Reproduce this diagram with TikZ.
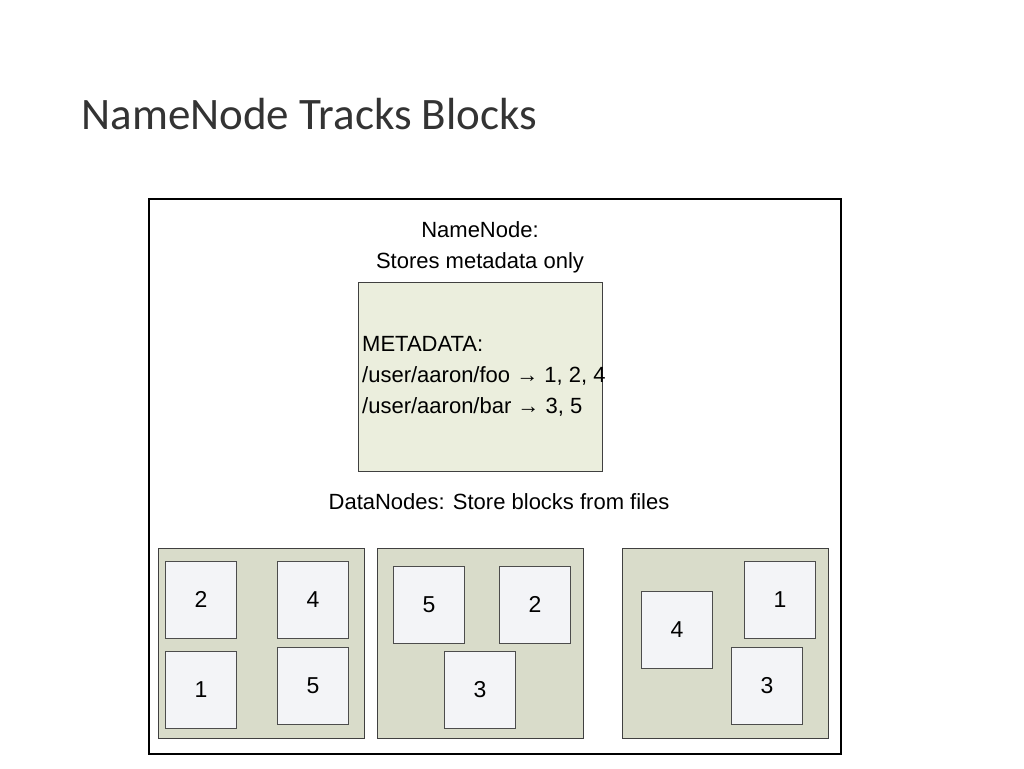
\documentclass[tikz,border=0pt]{standalone}
\usepackage{fontspec}
\setmainfont{Liberation Sans}
\newfontfamily\titlefont{Carlito}
\definecolor{metafill}{HTML}{EBEEDD}
\definecolor{dnfill}{HTML}{D9DCCA}
\definecolor{blkfill}{HTML}{F3F4F7}
\tikzset{
  panel/.style={draw=black!75, fill=dnfill, line width=1pt, minimum width=206pt, minimum height=190pt, anchor=north west},
  blk/.style={draw=black!70, fill=blkfill, line width=0.8pt, minimum width=71pt, minimum height=77pt, anchor=north west, font=\fontsize{23}{26}\selectfont},
  lbl/.style={font=\fontsize{22}{31}\selectfont, align=center}
}
\begin{document}
\begin{tikzpicture}[x=1pt,y=-1pt]
\useasboundingbox (0,0) rectangle (1024,768);
\node[anchor=west, font=\titlefont\fontsize{45}{50}\selectfont, text=black!80] (title) at (78,114) {NameNode Tracks Blocks};
\node[draw=black, line width=1.5pt, minimum width=692pt, minimum height=555pt, anchor=north west, inner sep=0pt] (frame) at (148,198) {};
\node[lbl] (nn) at (480,247) {NameNode:\\Stores metadata only};
\node[draw=black!75, fill=metafill, line width=1pt, minimum width=244pt, minimum height=189pt, anchor=north west, inner sep=0pt] (meta) at (358,282) {};
\node[lbl, align=left, anchor=west, inner sep=0pt] (metatxt) at (362,376) {METADATA:\\/user/aaron/foo → 1, 2, 4\\/user/aaron/bar → 3, 5};
\node[lbl] (dn) at (499,502) {DataNodes: Store blocks from files};
% datanodes
\node[panel] (p1) at (158,548) {};
\node[panel] (p2) at (377,548) {};
\node[panel] (p3) at (622,548) {};
% blocks
\node[blk] (a2) at (165,561) {2};
\node[blk] (a4) at (277,561) {4};
\node[blk] (a1) at (165,651) {1};
\node[blk] (a5) at (277,647) {5};
\node[blk] (b5) at (393,566) {5};
\node[blk] (b2) at (499,566) {2};
\node[blk] (b3) at (444,651) {3};
\node[blk] (c4) at (641,591) {4};
\node[blk] (c1) at (744,561) {1};
\node[blk] (c3) at (731,647) {3};
\end{tikzpicture}
\end{document}
